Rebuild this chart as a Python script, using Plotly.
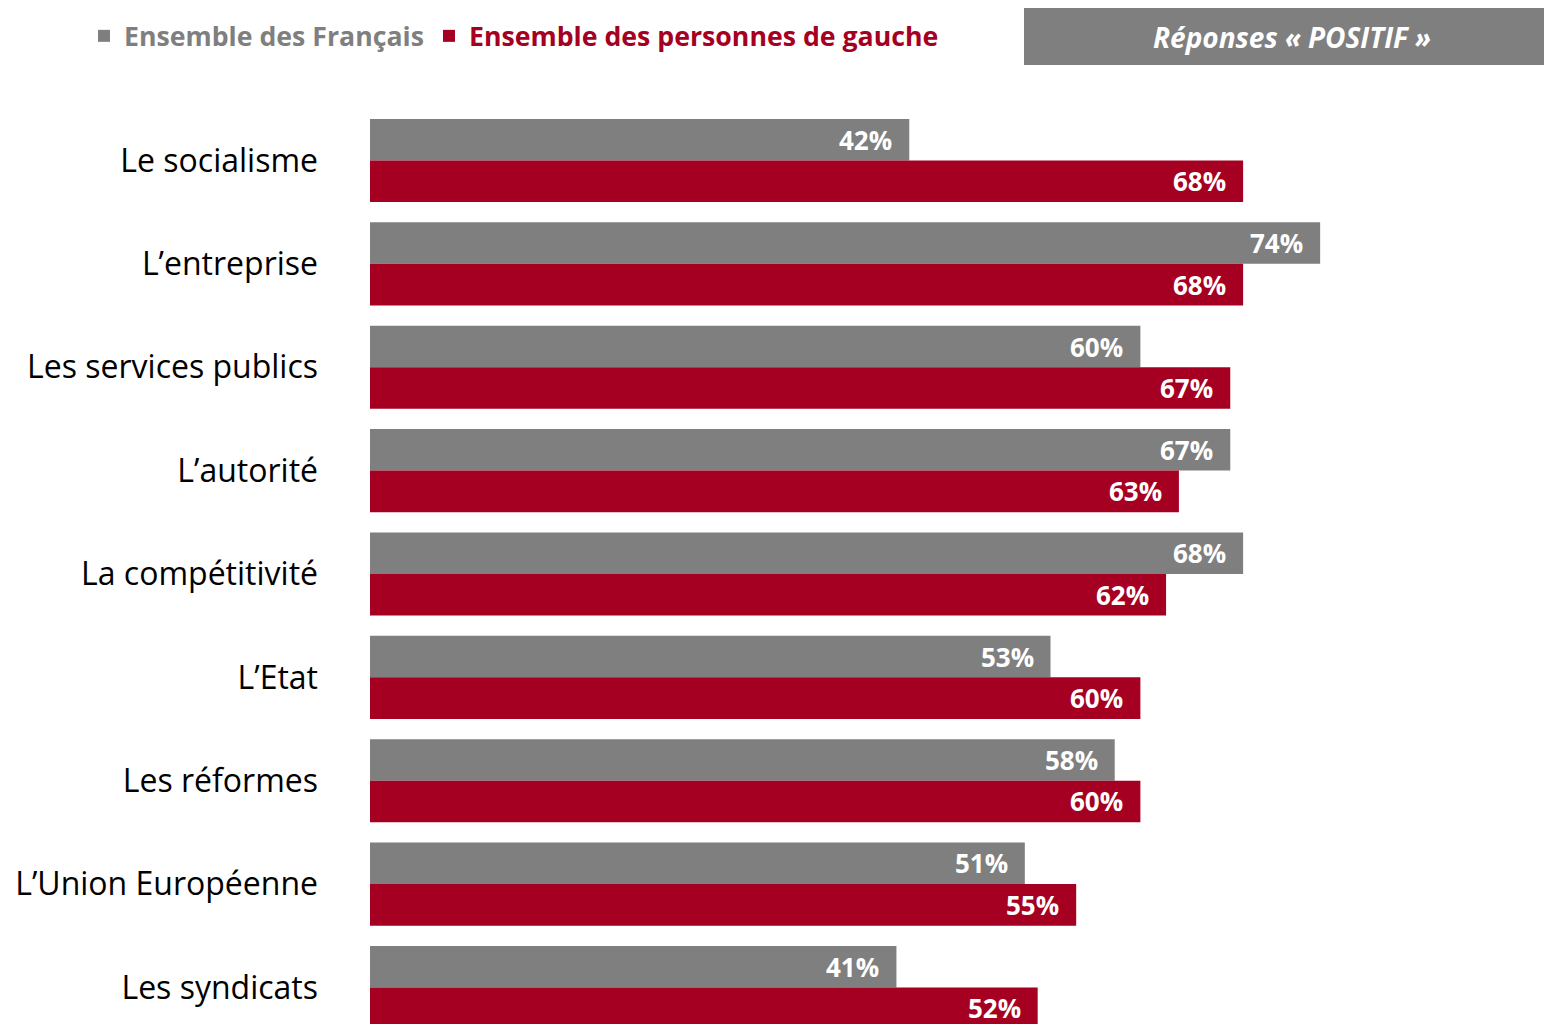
import plotly.graph_objects as go

# data
categories = ["Le socialisme", "L’entreprise", "Les services publics", "L’autorité",
              "La compétitivité", "L’Etat", "Les réformes", "L’Union Européenne",
              "Les syndicats"]
francais = [42, 74, 60, 67, 68, 53, 58, 51, 41]
gauche = [68, 68, 67, 63, 62, 60, 60, 55, 52]

GREY = "#7F7F7F"
RED = "#A50021"
FONT = "Open Sans"

L = 362          # left margin (plot starts here)
T = 90           # top margin (legend lives above the plot)
PW = 1552 - L    # plot width
PH = 1024 - T    # plot height


def px(x):
    # figure pixel -> paper x
    return (x - L) / PW


def py(y):
    # figure pixel -> paper y
    return 1 - (y - T) / PH


fig = go.Figure()
fig.add_trace(go.Bar(
    y=categories, x=francais, orientation="h",
    name="<b><span style='color:%s'>Ensemble des Français</span></b>" % GREY,
    marker=dict(color=GREY, line=dict(width=0)),
))
fig.add_trace(go.Bar(
    y=categories, x=gauche, orientation="h",
    name="<b><span style='color:%s'>Ensemble des personnes de gauche</span></b>" % RED,
    marker=dict(color=RED, line=dict(width=0)),
))

# value labels at the end of each bar
for cat, v1, v2 in zip(categories, francais, gauche):
    for v, shift in ((v1, 20.7), (v2, -20.7)):
        fig.add_annotation(x=v, y=cat, text="<b>%d%%</b>" % v, showarrow=False,
                           xanchor="right", yanchor="middle", xshift=-15, yshift=shift,
                           font=dict(family=FONT, size=26, color="white"))

# "Réponses « POSITIF »" box
fig.add_shape(type="rect", xref="paper", yref="paper",
              x0=px(1016), x1=px(1560), y0=py(57), y1=py(-2),
              fillcolor=GREY, line=dict(width=0), layer="above")
fig.add_annotation(xref="paper", yref="paper", x=px(1284), y=py(29),
                   text="<b><i>Réponses « POSITIF »</i></b>", showarrow=False,
                   xanchor="center", yanchor="middle",
                   font=dict(family=FONT, size=28, color="white"))

fig.update_layout(
    width=1552, height=1024,
    margin=dict(l=L, r=0, t=T, b=0),
    barmode="group", bargap=0.197, bargroupgap=0,
    plot_bgcolor="white", paper_bgcolor="white",
    font=dict(family=FONT, size=30, color="black"),
    showlegend=True,
    legend=dict(orientation="h", x=px(76), y=py(28),
                xanchor="left", yanchor="middle",
                font=dict(family=FONT, size=26.7), bgcolor="rgba(0,0,0,0)",
                traceorder="normal"),
)
fig.update_xaxes(range=[0, 92.68], visible=False, showgrid=False)
fig.update_yaxes(range=[8.4305, -0.6046], showgrid=False, showline=False,
                 ticks="", ticklabelstandoff=51, tickfont=dict(size=32, color="black"))

fig.write_html("out.html")
